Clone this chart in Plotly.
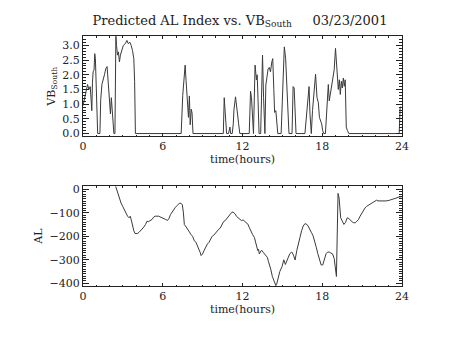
import plotly.graph_objects as go

# Southward solar-wind driver VB_South (mV/m) vs. time of day (hours)
t_vb = [0.00, 0.05, 0.15, 0.25, 0.34, 0.44, 0.54, 0.60, 0.66, 0.71, 0.76, 0.83, 0.88, 0.93, 0.98, 1.04, 1.10,
        1.27, 1.33, 1.42, 1.50, 1.61, 1.66, 1.72, 1.81, 1.86, 1.90, 2.01, 2.06, 2.13, 2.19, 2.26, 2.32,
        2.40, 2.47, 2.52, 2.59, 2.66, 2.74, 2.81, 2.91, 3.03, 3.18, 3.30, 3.40, 3.52, 3.62, 3.72, 3.82, 3.88, 3.94,
        7.38, 7.50, 7.60, 7.68, 7.75, 7.85, 7.93, 8.00, 8.06, 8.14, 8.20, 8.27,
        10.55, 10.62, 10.70, 10.80, 10.94, 11.05, 11.10, 11.22, 11.30, 11.35, 11.47, 11.55, 11.62, 11.70, 11.79,
        12.50, 12.60, 12.67, 12.82, 12.88, 12.94, 13.04, 13.10, 13.16, 13.24,
        13.36, 13.50, 13.58, 13.68, 13.75, 13.85, 13.92, 14.01, 14.10, 14.20, 14.27, 14.35, 14.41, 14.50, 14.58, 14.65,
        14.90, 15.05, 15.14, 15.24, 15.38, 15.49, 15.72, 15.80, 15.88, 15.95, 16.02,
        16.69, 16.85, 17.00, 17.07, 17.17, 17.26, 17.42, 17.49, 17.60, 17.70, 17.78, 17.86, 17.95, 18.02, 18.10,
        18.23, 18.35, 18.45, 18.52, 18.60, 18.70, 18.79, 18.89, 18.99, 19.06, 19.13, 19.20, 19.28, 19.35, 19.43,
        19.50, 19.58, 19.65, 19.72, 19.80, 19.88, 19.99,
        23.78, 23.85, 23.92]
vb_south = [0.95, 1.05, 1.22, 1.45, 1.67, 1.50, 1.60, 1.20, 0.78, 1.75, 2.10, 2.17, 2.72, 2.55, 1.55, 0.45, 0.00,
            0.00, 1.15, 1.67, 1.78, 2.00, 2.10, 2.22, 2.28, 2.00, 1.55, 1.22, 0.67, 1.22, 0.89, 0.45, 0.00,
            0.00, 3.35, 3.00, 2.67, 2.78, 2.44, 2.67, 2.83, 3.00, 3.06, 3.17, 3.06, 3.11, 3.00, 2.83, 2.55, 1.78, 0.00,
            0.00, 1.30, 1.90, 2.33, 1.80, 0.90, 0.55, 1.28, 0.30, 0.83, 0.70, 0.00,
            0.00, 1.22, 0.70, 0.00, 0.00, 0.22, 0.00, 0.00, 0.33, 0.80, 1.25, 0.85, 0.75, 0.35, 0.00,
            0.00, 1.44, 1.22, 0.00, 1.60, 2.33, 1.83, 2.00, 1.20, 0.00,
            0.00, 2.67, 1.22, 0.00, 1.65, 2.10, 2.20, 2.25, 2.10, 2.44, 2.55, 1.50, 0.72, 0.78, 0.40, 0.00,
            0.00, 2.20, 2.95, 2.55, 1.22, 0.00, 0.00, 1.60, 1.55, 0.75, 0.00,
            0.00, 0.90, 1.60, 0.67, 0.00, 0.78, 1.90, 2.02, 1.22, 1.05, 0.55, 0.45, 0.33, 0.11, 0.00,
            0.00, 1.22, 1.67, 1.11, 1.33, 1.50, 1.90, 2.17, 2.90, 2.44, 1.90, 1.50, 1.83, 1.33, 1.78,
            1.55, 1.89, 1.61, 1.83, 0.22, 0.11, 0.00,
            0.00, 0.90, 0.90]

# Predicted AL index (nT) vs. time of day (hours)
t_al = [2.45, 2.62, 2.74, 2.86, 2.98, 3.10, 3.23, 3.35, 3.47, 3.55, 3.62, 3.72, 3.82, 3.91, 4.09, 4.21, 4.33,
        4.45, 4.58, 4.70, 4.82, 4.90, 4.99, 5.10, 5.19, 5.31, 5.43, 5.68, 5.87, 6.04, 6.21, 6.36, 6.46, 6.58,
        6.70, 6.83, 6.95, 7.09, 7.26, 7.39, 7.47, 7.55, 7.62, 7.76, 7.90, 8.00, 8.12, 8.24, 8.37, 8.49, 8.61,
        8.73, 8.82, 8.88, 8.98, 9.10, 9.22, 9.35, 9.47, 9.59, 9.71, 9.84, 9.96, 10.08, 10.20, 10.32, 10.45,
        10.57, 10.69, 10.81, 10.93, 11.05, 11.18, 11.28, 11.43, 11.55, 11.67, 11.80, 11.92, 12.04, 12.16,
        12.28, 12.40, 12.52, 12.65, 12.75, 12.89, 13.00, 13.14, 13.20, 13.26, 13.38, 13.45, 13.55, 13.65,
        13.75, 13.87, 13.95, 14.05, 14.12, 14.24, 14.36, 14.43, 14.50, 14.56, 14.65, 14.80, 14.97, 15.05,
        15.10, 15.22, 15.34, 15.45, 15.55, 15.63, 15.71, 15.83, 15.95, 16.08, 16.20, 16.32, 16.44, 16.56,
        16.69, 16.81, 16.93, 17.05, 17.17, 17.30, 17.42, 17.54, 17.66, 17.79, 17.91, 18.03, 18.15, 18.28,
        18.40, 18.52, 18.64, 18.77, 18.89, 18.98, 19.06, 19.10, 19.14, 19.18, 19.26, 19.32, 19.38, 19.50,
        19.62, 19.75, 19.87, 19.99, 20.11, 20.24, 20.36, 20.48, 20.60, 20.72, 20.84, 20.97, 21.09, 21.21,
        21.33, 21.45, 21.58, 21.70, 21.82, 21.95, 22.07, 22.19, 22.31, 22.56, 22.80, 23.05, 23.29, 23.54,
        23.78, 23.95]
al_index = [14, -17, -44, -58, -72, -86, -100, -114, -121, -114, -128, -156, -176, -188, -188, -183, -176,
            -169, -160, -149, -135, -138, -135, -131, -128, -118, -114, -114, -118, -124, -128, -132, -124, -107,
            -96, -86, -76, -68, -58, -60, -66, -100, -150, -160, -175, -180, -192, -200, -219, -225, -240,
            -254, -270, -282, -276, -261, -247, -233, -226, -212, -200, -195, -185, -178, -170, -165, -150,
            -137, -133, -124, -116, -106, -98, -96, -104, -115, -120, -126, -133, -130, -135,
            -142, -148, -164, -185, -192, -205, -225, -260, -255, -275, -262, -260, -268, -275,
            -280, -290, -308, -325, -340, -371, -392, -395, -410, -405, -380, -350, -329, -312,
            -300, -320, -301, -285, -274, -270, -267, -280, -301, -260, -225, -204, -176, -156,
            -146, -148, -156, -172, -183, -197, -218, -246, -274, -301, -322, -322, -294, -274,
            -267, -267, -271, -275, -294, -330, -371, -250, -100, -17, -37, -93, -121, -135,
            -149, -140, -121, -124, -132, -138, -142, -142, -135, -128, -114, -100, -90, -79,
            -72, -68, -62, -60, -54, -50, -46, -49, -49, -51, -49, -46, -40, -37,
            -32, -31]

hour_ticks = [0, 6, 12, 18, 24]
vb_ticks = [0.0, 0.5, 1.0, 1.5, 2.0, 2.5, 3.0]
al_ticks = [0, -100, -200, -300, -400]

W, H = 454, 341
FONT = "DejaVu Serif"
INK = "#222222"
TRACE = "#3a3a3a"

fig = go.Figure()
fig.add_trace(go.Scatter(x=t_vb, y=vb_south, mode="lines", xaxis="x", yaxis="y",
                         line=dict(color=TRACE, width=1), showlegend=False))
fig.add_trace(go.Scatter(x=t_al, y=al_index, mode="lines", xaxis="x2", yaxis="y2",
                         line=dict(color=TRACE, width=1), showlegend=False))

xdom = [81 / W, 408 / W]


def x_axis(anchor):
    return dict(domain=xdom, anchor=anchor, range=[0, 24], tickvals=hour_ticks,
                ticktext=[str(v) for v in hour_ticks], ticks="inside", ticklen=3, tickwidth=1,
                tickcolor=INK, showline=True, linecolor=INK, linewidth=1, mirror="ticks",
                showgrid=False, zeroline=False,
                minor=dict(dtick=1, ticks="inside", ticklen=1.5, tickcolor=INK, showgrid=False),
                tickfont=dict(family=FONT, size=11, color=INK),
                title=dict(text="time(hours)", font=dict(family=FONT, size=11, color=INK), standoff=2))


def y_axis(anchor, dom, rng, ticks, fmt, minor_dt, label):
    return dict(domain=dom, anchor=anchor, range=rng, tickvals=ticks,
                ticktext=[fmt(v) for v in ticks], ticks="inside", ticklen=6, tickwidth=1,
                tickcolor=INK, showline=True, linecolor=INK, linewidth=1, mirror="ticks",
                showgrid=False, zeroline=False,
                minor=dict(dtick=minor_dt, ticks="inside", ticklen=3, tickcolor=INK, showgrid=False),
                tickfont=dict(family=FONT, size=11, color=INK),
                title=dict(text=label, font=dict(family=FONT, size=11, color=INK), standoff=4))


fig.update_layout(
    width=W, height=H,
    margin=dict(l=0, r=0, t=0, b=0),
    paper_bgcolor="white", plot_bgcolor="white",
    xaxis=x_axis("y"),
    yaxis=y_axis("x", [(H - 136) / H, (H - 34) / H], [-0.09, 3.31], vb_ticks,
                 lambda v: f"{v:.1f}", 0.1, "VB<sub>South</sub>"),
    xaxis2=x_axis("y2"),
    yaxis2=y_axis("x2", [(H - 289) / H, (H - 187) / H], [-412, 14], al_ticks,
                  lambda v: str(v).replace("-", "\u2212"), 10, "AL"),
    title=dict(text="Predicted AL Index vs. VB<sub>South</sub>     03/23/2001",
               x=240 / W, xanchor="center", y=1 - 20 / H, yanchor="middle",
               font=dict(family=FONT, size=13, color=INK)),
)

fig.write_html("out.html")
